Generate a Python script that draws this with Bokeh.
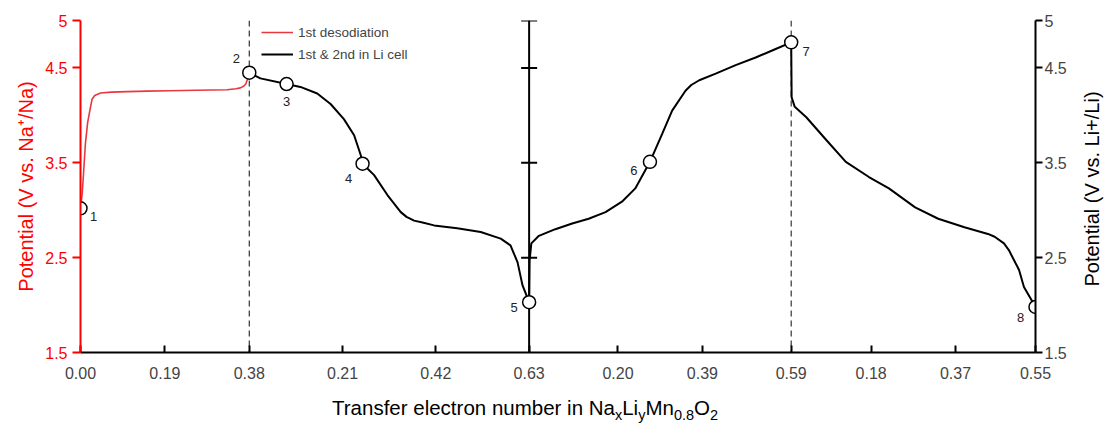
from bokeh.plotting import figure
from bokeh.layouts import column, row
from bokeh.models import (Range1d, LinearAxis, FixedTicker, Span, Legend,
                          LegendItem, ColumnDataSource, Div)
from bokeh.core.properties import value
from bokeh.embed import file_html
from bokeh.resources import INLINE

FONT = "Liberation Sans"

# lengths of the four half-cycles along the transfer-electron axis
segment_lengths = [0.38, 0.63, 0.59, 0.55]

# tick values printed under each half-cycle
segment_tick_values = [
    [0.00, 0.19, 0.38],
    [0.21, 0.42, 0.63],
    [0.20, 0.39, 0.59],
    [0.18, 0.37, 0.55],
]

voltage_ticks = [1.5, 2.5, 3.5, 4.5, 5.0]

# 1st desodiation (Na cell)
desod_x = [0.0, 0.002, 0.004, 0.007, 0.011, 0.016, 0.021, 0.026, 0.032, 0.045,
           0.07, 0.105, 0.15, 0.20, 0.26, 0.33, 0.35, 0.36, 0.368, 0.372, 0.376, 0.38]
desod_v = [3.02, 3.10, 3.18, 3.40, 3.70, 3.92, 4.05, 4.17, 4.21, 4.235,
           4.245, 4.25, 4.255, 4.26, 4.265, 4.27, 4.28, 4.29, 4.31, 4.33, 4.38, 4.45]

# 1st discharge in Li cell
dis1_x = [0.0, 0.025, 0.084, 0.115, 0.153, 0.183, 0.213, 0.236, 0.251, 0.255,
          0.281, 0.311, 0.341, 0.354, 0.371, 0.390, 0.416, 0.468, 0.521, 0.566,
          0.588, 0.604, 0.615, 0.63]
dis1_v = [4.45, 4.39, 4.33, 4.30, 4.23, 4.12, 3.96, 3.79, 3.58, 3.49,
          3.37, 3.16, 2.98, 2.93, 2.89, 2.87, 2.84, 2.81, 2.77, 2.70,
          2.63, 2.45, 2.21, 2.03]

# charge in Li cell
chg_x = [0.0, 0.001, 0.005, 0.022, 0.059, 0.097, 0.134, 0.172, 0.209, 0.239,
         0.272, 0.300, 0.322, 0.352, 0.365, 0.383, 0.420, 0.465, 0.510, 0.555, 0.59]
chg_v = [2.03, 2.47, 2.65, 2.73, 2.80, 2.86, 2.91, 2.98, 3.09, 3.23,
         3.51, 3.81, 4.05, 4.26, 4.32, 4.37, 4.44, 4.53, 4.61, 4.70, 4.77]

# 2nd discharge in Li cell
dis2_x = [0.0, 0.001, 0.008, 0.034, 0.079, 0.123, 0.175, 0.220, 0.279, 0.331,
          0.390, 0.443, 0.458, 0.479, 0.490, 0.502, 0.513, 0.524, 0.55]
dis2_v = [4.77, 4.19, 4.09, 3.98, 3.74, 3.51, 3.35, 3.23, 3.03, 2.91,
          2.82, 2.75, 2.72, 2.65, 2.58, 2.47, 2.37, 2.19, 1.98]

# numbered state points: half-cycle index, position within it, voltage
point_labels = ["1", "2", "3", "4", "5", "6", "7", "8"]
point_seg = [0, 0, 1, 1, 1, 2, 2, 3]
point_x = [0.0, 0.38, 0.084, 0.255, 0.63, 0.272, 0.59, 0.55]
point_v = [3.02, 4.45, 4.33, 3.49, 2.03, 3.51, 4.77, 1.98]

# where each number sits relative to its circle (pixels)
label_dx = [13, -13, 0, -14, -15, -16, 15, -15]
label_dy = [8, -14, 17, 15, 5, 9, 9, 11]

# cumulative start of each half-cycle
starts = [0.0]
for L in segment_lengths[:-1]:
    starts.append(round(starts[-1] + L, 4))
total = round(sum(segment_lengths), 4)

xtick_pos, xtick_text = [], []
for s, vals in zip(starts, segment_tick_values):
    for v in vals:
        pos = round(s + v, 4)
        if pos not in xtick_pos:
            xtick_pos.append(pos)
            xtick_text.append(f"{v:.2f}")

red_x = [starts[0] + x for x in desod_x]
blk_x = ([starts[1] + x for x in dis1_x] + [starts[2] + x for x in chg_x]
         + [starts[3] + x for x in dis2_x])
blk_v = dis1_v + chg_v + dis2_v

PLOT_W, PLOT_H, SIDE_W = 1078, 390, 28

p = figure(width=PLOT_W, height=PLOT_H, output_backend="svg", toolbar_location=None,
           x_range=Range1d(0, total), y_range=Range1d(1.5, 5.0),
           min_border_left=80, min_border_right=43, min_border_top=20,
           min_border_bottom=38)
p.outline_line_color = None
p.xgrid.visible = False
p.ygrid.visible = False
p.background_fill_color = "white"
p.border_fill_color = "white"

# bottom axis
xa = p.xaxis[0]
xa.ticker = FixedTicker(ticks=xtick_pos)
xa.major_label_overrides = dict(zip(xtick_pos, xtick_text))
xa.axis_line_width = 2
xa.major_tick_line_width = 2
xa.major_tick_in = 7
xa.major_tick_out = 0
xa.minor_tick_line_color = None
xa.major_label_text_font = FONT
xa.major_label_text_font_size = "16px"
xa.major_label_standoff = 14

# left axis (Na cell), red
ya = p.yaxis[0]
ya.ticker = FixedTicker(ticks=voltage_ticks)
ya.major_label_overrides = {5.0: "5"}
ya.axis_line_color = "#ff0000"
ya.axis_line_width = 2
ya.major_tick_line_color = "#ff0000"
ya.major_tick_line_width = 2
ya.major_tick_in = 0
ya.major_tick_out = 8
ya.minor_tick_line_color = None
ya.major_label_text_color = "#ff0000"
ya.major_label_text_font = FONT
ya.major_label_text_font_size = "16px"
ya.major_label_standoff = 5
ya.axis_label = "Potential (V vs. Na\u207a/Na)"
ya.axis_label_text_color = "#ff0000"
ya.axis_label_text_font = FONT
ya.axis_label_text_font_style = "normal"
ya.axis_label_text_font_size = "20px"
ya.axis_label_standoff = 5

# right axis (Li cell), black
yr = LinearAxis(ticker=FixedTicker(ticks=voltage_ticks))
yr.major_label_overrides = {5.0: "5"}
yr.axis_line_width = 2
yr.major_tick_line_width = 2
yr.major_tick_in = 0
yr.major_tick_out = 7
yr.minor_tick_line_color = None
yr.major_label_text_font = FONT
yr.major_label_text_font_size = "16px"
yr.major_label_standoff = 2
p.add_layout(yr, "right")

# separators between half-cycles
for s in (starts[1], starts[3]):
    p.add_layout(Span(location=s, dimension="height", line_color="#333333",
                      line_width=1.2, line_dash="6 4", level="underlay"))
p.add_layout(Span(location=starts[2], dimension="height", line_color="black",
                  line_width=2, level="underlay"))
p.scatter(x=[starts[2]] * (len(voltage_ticks) - 1), y=voltage_ticks[1:],
          marker="dash", size=16, line_color="black", line_width=2)

red = p.line(red_x, desod_v, line_color="#e8383f", line_width=1.6)
blk = p.line(blk_x, blk_v, line_color="black", line_width=2)

pts = ColumnDataSource(dict(
    x=[starts[s] + x for s, x in zip(point_seg, point_x)],
    y=point_v, text=point_labels, dx=label_dx, dy=label_dy))
p.scatter("x", "y", source=pts, size=13, fill_color="white",
          line_color="black", line_width=1.5)
p.text("x", "y", text="text", source=pts, x_offset="dx", y_offset="dy",
       text_align="center", text_baseline="middle", text_font=value(FONT),
       text_font_size="13px", text_color="#222222")

legend = Legend(items=[LegendItem(label="1st desodiation", renderers=[red]),
                       LegendItem(label="1st & 2nd in Li cell", renderers=[blk])],
                location=(181, 288), border_line_color=None,
                background_fill_alpha=0, glyph_width=32, label_standoff=5,
                spacing=2, padding=0, margin=0, label_text_font=FONT,
                label_text_font_size="13.5px")
p.add_layout(legend)

# right-hand axis title, reading bottom to top
right_title = Div(text=(
    f'<div style="position:relative;width:{SIDE_W}px;height:{PLOT_H}px;">'
    '<div style="position:absolute;left:14px;top:189px;'
    'transform:translate(-50%,-50%) rotate(-90deg);white-space:nowrap;'
    "font-family:'Liberation Sans';font-size:20px;line-height:22px;color:black;\">"
    'Potential (V vs. Li+/Li)</div></div>'),
    width=SIDE_W, height=PLOT_H, margin=0)

# x-axis title with chemical subscripts
sub = '<sub style="font-size:14.5px;vertical-align:-5px;">{}</sub>'
title_html = ("Transfer electron number in Na" + sub.format("x") + "Li" + sub.format("y")
              + "Mn" + sub.format("0.8") + "O" + sub.format("2"))
title = Div(text=('<div style="margin-left:332px;margin-top:6px;line-height:24px;'
                  "font-family:'Liberation Sans';font-size:20.5px;color:black;"
                  'white-space:nowrap;">' + title_html + '</div>'),
            width=PLOT_W + SIDE_W, height=38, margin=0)

layout = column(row(p, right_title, spacing=0), title, spacing=0)
open("out.html", "w").write(file_html(layout, INLINE))
